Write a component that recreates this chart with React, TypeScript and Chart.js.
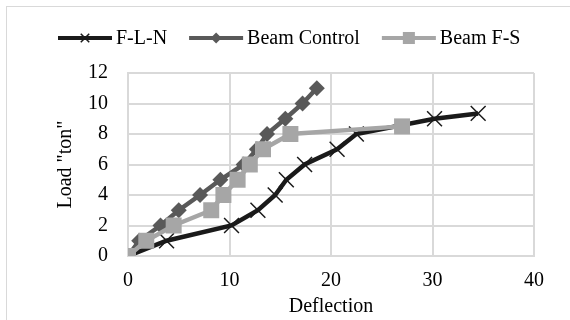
import React, { useEffect, useRef } from 'react';
import { Chart, registerables } from 'chart.js';

Chart.register(...registerables);

// ---- data ----
const seriesNames = ['F-L-N', 'Beam Control', 'Beam F-S'];

const flnDeflection = [0, 3.8, 10.2, 12.8, 14.5, 15.6, 17.4, 20.6, 22.5, 30.2, 34.5];
const flnLoad = [0, 1, 2, 3, 4, 5, 6, 7, 8, 9, 9.35];

const controlDeflection = [0, 1.1, 3.2, 5, 7.1, 9.1, 11.4, 12.7, 13.7, 15.5, 17.2, 18.6];
const controlLoad = [0, 1, 2, 3, 4, 5, 6, 7, 8, 9, 10, 11];

const fsDeflection = [0, 1.8, 4.5, 8.2, 9.4, 10.8, 12, 13.3, 16, 27];
const fsLoad = [0, 1, 2, 3, 4, 5, 6, 7, 8, 8.5];

const xTickValues = [0, 10, 20, 30, 40];
const yTickValues = [0, 2, 4, 6, 8, 10, 12];

const xTitle = 'Deflection';
const yTitle = 'Load "ton"';

const toPoints = (xs: number[], ys: number[]) => xs.map((x, i) => ({ x, y: ys[i] }));

const FONT = '"Liberation Serif", "Times New Roman", serif';

function drawMarker(ctx: CanvasRenderingContext2D, style: string, x: number, y: number, r: number, color: string) {
  ctx.save();
  ctx.fillStyle = color;
  ctx.strokeStyle = color;
  if (style === 'crossRot') {
    const o = r * Math.SQRT1_2;
    ctx.lineWidth = 1.5;
    ctx.beginPath();
    ctx.moveTo(x - o, y - o);
    ctx.lineTo(x + o, y + o);
    ctx.moveTo(x - o, y + o);
    ctx.lineTo(x + o, y - o);
    ctx.stroke();
  } else if (style === 'rectRot') {
    ctx.beginPath();
    ctx.moveTo(x, y - r);
    ctx.lineTo(x + r, y);
    ctx.lineTo(x, y + r);
    ctx.lineTo(x - r, y);
    ctx.closePath();
    ctx.fill();
  } else {
    const s = r * Math.SQRT1_2;
    ctx.fillRect(x - s, y - s, 2 * s, 2 * s);
  }
  ctx.restore();
}

const legendPlugin = {
  id: 'lineMarkerLegend',
  afterDraw(chart: any) {
    const ctx: CanvasRenderingContext2D = chart.ctx;
    ctx.save();
    ctx.font = `20px ${FONT}`;
    ctx.textBaseline = 'middle';
    ctx.textAlign = 'left';
    const y = 38;
    let x = 58;
    const sample = 54;
    chart.data.datasets.forEach((ds: any) => {
      ctx.strokeStyle = ds.borderColor;
      ctx.lineWidth = 4;
      ctx.beginPath();
      ctx.moveTo(x, y);
      ctx.lineTo(x + sample, y);
      ctx.stroke();
      drawMarker(ctx, ds.pointStyle, x + sample / 2, y, ds.legendMarkerRadius, ds.pointBackgroundColor);
      ctx.fillStyle = '#000';
      ctx.fillText(ds.label, x + sample + 4, y + 1);
      x += sample + 4 + ctx.measureText(ds.label).width + 22;
    });
    ctx.restore();
  },
};

export default function App() {
  const canvasRef = useRef<HTMLCanvasElement | null>(null);

  useEffect(() => {
    const canvas = canvasRef.current;
    if (!canvas) return;
    const gridColor = '#d9d9d9';
    const chart = new Chart(canvas, {
      type: 'line',
      data: {
        datasets: [
          {
            label: seriesNames[0],
            data: toPoints(flnDeflection, flnLoad),
            borderColor: '#1a1a1a',
            backgroundColor: '#1a1a1a',
            pointBackgroundColor: '#1a1a1a',
            pointBorderColor: '#1a1a1a',
            borderWidth: 4.5,
            pointStyle: 'crossRot',
            pointRadius: 10.5,
            pointBorderWidth: 1.5,
            tension: 0,
            order: 2,
            legendMarkerRadius: 6,
          } as any,
          {
            label: seriesNames[1],
            data: toPoints(controlDeflection, controlLoad),
            borderColor: '#595959',
            backgroundColor: '#595959',
            pointBackgroundColor: '#595959',
            pointBorderColor: '#595959',
            borderWidth: 4.5,
            pointStyle: 'rectRot',
            pointRadius: 8,
            pointBorderWidth: 0,
            tension: 0,
            order: 1,
            legendMarkerRadius: 5.5,
          } as any,
          {
            label: seriesNames[2],
            data: toPoints(fsDeflection, fsLoad),
            borderColor: '#a6a6a6',
            backgroundColor: '#a6a6a6',
            pointBackgroundColor: '#a6a6a6',
            pointBorderColor: '#a6a6a6',
            borderWidth: 4.5,
            pointStyle: 'rect',
            pointRadius: 11.3,
            pointBorderWidth: 0,
            tension: 0,
            order: 0,
            legendMarkerRadius: 8.5,
          } as any,
        ],
      },
      options: {
        responsive: false,
        animation: false,
        devicePixelRatio: 1,
        layout: { padding: { left: 50, right: 36, top: 73, bottom: 0 } },
        plugins: {
          legend: { display: false },
          tooltip: { enabled: false },
        },
        scales: {
          x: {
            type: 'linear',
            min: 0,
            max: 40,
            afterBuildTicks: (scale: any) => {
              scale.ticks = xTickValues.map((v) => ({ value: v }));
            },
            afterFit: (scale: any) => {
              scale.height = 64;
            },
            ticks: {
              font: { family: FONT, size: 20 },
              color: '#000',
              padding: 13,
              maxRotation: 0,
            },
            grid: { color: gridColor, lineWidth: 2, drawTicks: false },
            border: { color: gridColor, width: 2 },
            title: {
              display: true,
              text: xTitle,
              font: { family: FONT, size: 20 },
              color: '#000',
              padding: 1,
            },
          },
          y: {
            type: 'linear',
            min: 0,
            max: 12,
            afterBuildTicks: (scale: any) => {
              scale.ticks = yTickValues.map((v) => ({ value: v }));
            },
            afterFit: (scale: any) => {
              scale.width = 78;
            },
            ticks: {
              font: { family: FONT, size: 20 },
              color: '#000',
              padding: 20,
            },
            grid: { color: gridColor, lineWidth: 2, drawTicks: false },
            border: { color: gridColor, width: 2 },
            title: {
              display: true,
              text: yTitle,
              font: { family: FONT, size: 20 },
              color: '#000',
              padding: 4,
            },
          },
        },
      } as any,
      plugins: [legendPlugin],
    });
    return () => chart.destroy();
  }, []);

  return (
    <div
      style={{
        position: 'fixed',
        left: 0,
        top: 0,
        width: 570,
        height: 320,
        overflow: 'hidden',
        background: '#fff',
      }}
    >
      <div
        style={{
          position: 'absolute',
          left: 6,
          top: 6,
          width: 620,
          height: 400,
          border: '1px solid #d9d9d9',
          boxSizing: 'border-box',
        }}
      />
      <canvas
        ref={canvasRef}
        width={570}
        height={320}
        style={{ position: 'absolute', left: 0, top: 0, width: 570, height: 320 }}
      />
    </div>
  );
}
